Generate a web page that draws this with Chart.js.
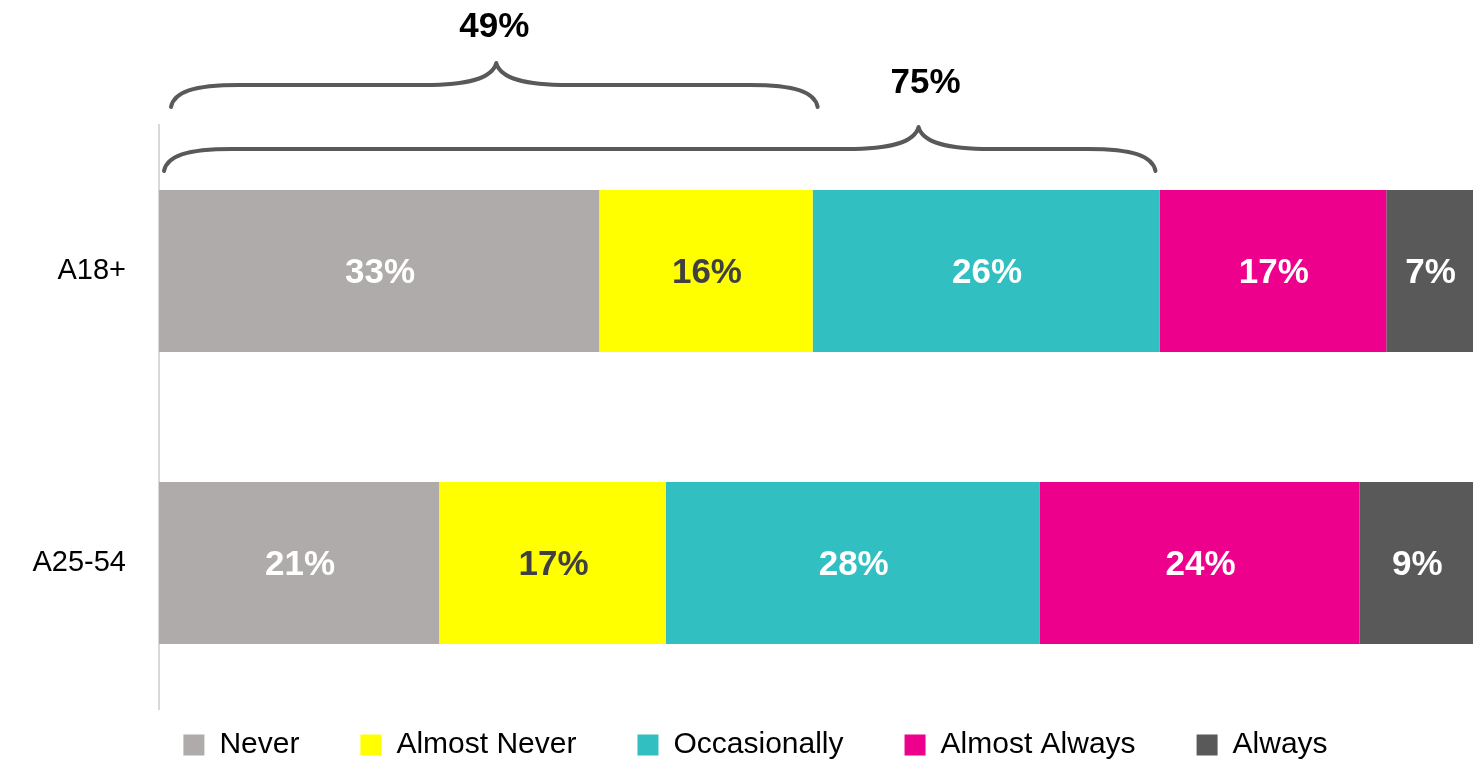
<!DOCTYPE html>
<html>
<head>
<meta charset="utf-8">
<script src="https://cdn.jsdelivr.net/npm/chart.js@4/dist/chart.umd.min.js"></script>
<style>
html,body{margin:0;padding:0;background:#fff;}
#wrap{width:1473px;height:762px;position:relative;}
</style>
</head>
<body>
<div id="wrap"><canvas id="c" width="1473" height="762"></canvas></div>
<script>
const categories = ['A18+', 'A25-54'];
const seriesNames = ['Never', 'Almost Never', 'Occasionally', 'Almost Always', 'Always'];
const never = [33, 21];
const almostNever = [16, 17];
const occasionally = [26, 28];
const almostAlways = [17, 24];
const always = [7, 9];
const bracketFrom = [0, 0];
const bracketTo = [49, 75];
const bracketLabels = ['49%', '75%'];

const colors = ['#AFABAB', '#FFFF00', '#31BFC1', '#EC008C', '#595959'];
const labelColors = ['#FFFFFF', '#404040', '#FFFFFF', '#FFFFFF', '#FFFFFF'];
const values = [never, almostNever, occasionally, almostAlways, always];
const FONT = "'Liberation Sans', Arial, sans-serif";

const datasets = seriesNames.map((n, i) => ({
  label: n,
  data: values[i],
  backgroundColor: colors[i],
  borderWidth: 0,
  barPercentage: 0.555,
  categoryPercentage: 1.0
}));

const labelPlugin = {
  id: 'segLabels',
  afterDatasetsDraw(chart) {
    const ctx = chart.ctx;
    ctx.save();
    ctx.font = "bold 35px " + FONT;
    ctx.textAlign = 'center';
    ctx.textBaseline = 'middle';
    chart.data.datasets.forEach((ds, di) => {
      const meta = chart.getDatasetMeta(di);
      const right = chart.chartArea.right;
      meta.data.forEach((el, j) => {
        const x1 = Math.min(el.x, right);
        const cx = (x1 + el.base) / 2;
        ctx.fillStyle = labelColors[di];
        ctx.fillText(ds.data[j] + '%', cx + 1, el.y + 2);
      });
    });
    ctx.restore();
  }
};

function drawBrace(ctx, x1, x2, px, y, endDrop, peakRise) {
  ctx.beginPath();
  ctx.moveTo(x1, y + endDrop);
  ctx.bezierCurveTo(x1 + 3, y + 7, x1 + 22, y, x1 + 68, y);
  ctx.lineTo(px - 72, y);
  ctx.bezierCurveTo(px - 30, y, px - 4, y - 6, px, y - peakRise);
  ctx.bezierCurveTo(px + 4, y - 6, px + 30, y, px + 72, y);
  ctx.lineTo(x2 - 68, y);
  ctx.bezierCurveTo(x2 - 22, y, x2 - 3, y + 7, x2, y + endDrop);
  ctx.stroke();
}

const braceStyle = {
  y: [85, 149],
  inset: [[12, 5], [5, -4]],
  peakFrac: [0.503, 0.761],
  labelDy: [-38, -46],
  labelDx: [-2, 7]
};

const bracePlugin = {
  id: 'braces',
  afterDraw(chart) {
    const ctx = chart.ctx;
    const xs = chart.scales.x;
    ctx.save();
    ctx.strokeStyle = '#595959';
    ctx.lineWidth = 4;
    ctx.lineCap = 'round';
    ctx.lineJoin = 'round';
    bracketTo.forEach((t, i) => {
      const xa = xs.getPixelForValue(bracketFrom[i]) + braceStyle.inset[i][0];
      const xb = xs.getPixelForValue(t) + braceStyle.inset[i][1];
      const y = braceStyle.y[i];
      const px = xa + (xb - xa) * braceStyle.peakFrac[i];
      drawBrace(ctx, xa, xb, px, y, 22, 22);
      ctx.fillStyle = '#000';
      ctx.font = "bold 35px " + FONT;
      ctx.textAlign = 'center';
      ctx.textBaseline = 'middle';
      ctx.fillText(bracketLabels[i], px + braceStyle.labelDx[i], y - 22 + braceStyle.labelDy[i] + 2);
    });
    ctx.restore();
  }
};

const LEGEND_H = 53;
const LEGEND_CENTER_Y = 745;
const LEGEND_SHIFT_X = 19;
const legendPatch = {
  id: 'legendPatch',
  beforeLayout(chart) {
    const lg = chart.legend;
    if (!lg || lg._patched) return;
    lg._patched = true;
    const origFit = lg.fit;
    lg.fit = function () {
      origFit.call(this);
      this.height = LEGEND_H;
    };
    const origDraw = lg.draw;
    lg.draw = function () {
      const t = this.top, l = this.left, r = this.right;
      const pad = this.options.labels.padding;
      const fs = this.options.labels.font.size;
      this.top = LEGEND_CENTER_Y - fs / 2 - pad;
      this.left = l + LEGEND_SHIFT_X;
      this.right = r + LEGEND_SHIFT_X;
      origDraw.apply(this, arguments);
      this.top = t; this.left = l; this.right = r;
    };
  }
};

new Chart(document.getElementById('c'), {
  type: 'bar',
  data: { labels: categories, datasets: datasets },
  options: {
    indexAxis: 'y',
    responsive: false,
    animation: false,
    maintainAspectRatio: false,
    layout: { padding: { top: 125, left: 0, right: 0, bottom: 0 } },
    scales: {
      x: {
        stacked: true,
        min: 0,
        max: 98.5,
        display: false
      },
      y: {
        stacked: true,
        grid: { display: false, drawTicks: false },
        border: { display: true, color: '#D9D9D9', width: 2 },
        ticks: {
          color: '#000',
          font: { family: FONT, size: 29 },
          padding: 33
        },
        afterFit(scale) { scale.width = 159; }
      }
    },
    plugins: {
      legend: {
        position: 'bottom',
        labels: {
          color: '#000',
          font: { family: FONT, size: 30 },
          boxWidth: 21,
          boxHeight: 21,
          padding: 61
        }
      },
      tooltip: { enabled: false }
    }
  },
  plugins: [legendPatch, labelPlugin, bracePlugin]
});
</script>
</body>
</html>
